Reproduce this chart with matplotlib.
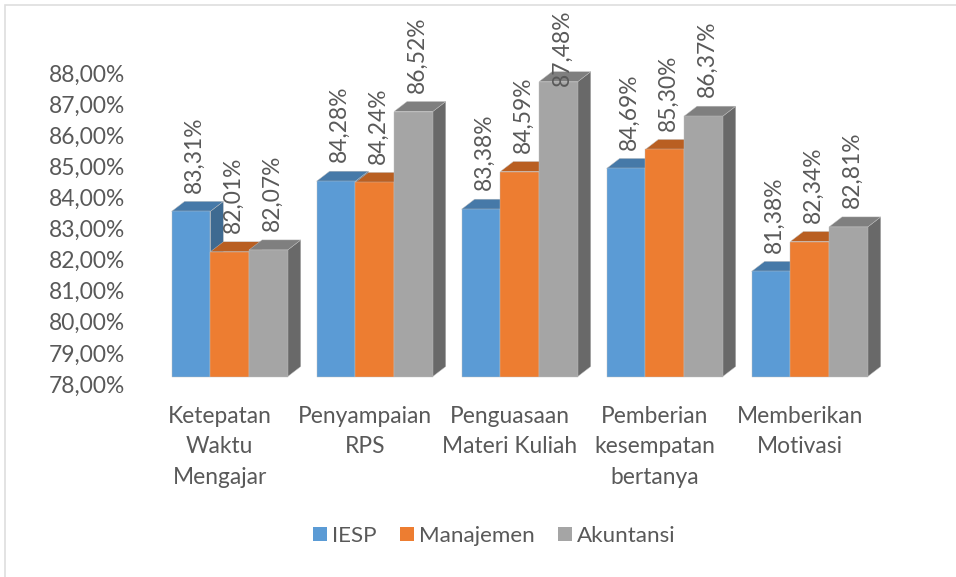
"""plot.py - 3D-look clustered columns, drawn by hand because mplot3d looks wrong here."""
import matplotlib
matplotlib.use("Agg")
import matplotlib.pyplot as plt
from matplotlib.patches import Patch, Polygon, Rectangle

categories = ["Ketepatan\nWaktu\nMengajar", "Penyampaian\nRPS", "Penguasaan\nMateri Kuliah",
              "Pemberian\nkesempatan\nbertanya", "Memberikan\nMotivasi"]
series_names = ["IESP", "Manajemen", "Akuntansi"]
iesp = [83.31, 84.28, 83.38, 84.69, 81.38]
manajemen = [82.01, 84.24, 84.59, 85.30, 82.34]
akuntansi = [82.07, 86.52, 87.48, 86.37, 82.81]
y_ticks = list(range(78, 89))

W, H = 956, 577
FRONT = ["#5B9BD5", "#ED7D31", "#A5A5A5"]
TOP = ["#4679A8", "#B95F22", "#7F7F7F"]
SIDE = ["#3E6A91", "#A3531D", "#696969"]
TEXT = "#595959"
FONT_SIZE = 16.4
PX_PER_CAT = 145.0
PX_PER_UNIT = 31.1
BASE_Y = 376.5
BAR_W = 38.7 / PX_PER_CAT
DX = 13 / PX_PER_CAT
DY = 10 / PX_PER_UNIT
LABEL_SHIFT = -10 / PX_PER_CAT  # category labels sit left of the column groups
LABEL_CEILING = 87.2  # labels above this get pushed down to stay in the chart

plt.rcParams["font.family"] = ["Lato", "DejaVu Sans"]
fig = plt.figure(figsize=(W / 100, H / 100), dpi=100)


def px_axes(left, top, right, bottom):
    return fig.add_axes([left / W, 1 - bottom / H, (right - left) / W, (bottom - top) / H])


# chart frame: only the top and left edges are visible
fig.add_artist(Rectangle((5 / W, -0.02), 2, 1.02 - 5 / H, transform=fig.transFigure, fill=False,
                         edgecolor="#DEDEDE", linewidth=1.2))

ax = px_axes(157.2, BASE_Y - 10 * PX_PER_UNIT, 882.2, BASE_Y)
ax.set_xlim(-0.5, 4.5)
ax.set_ylim(78, 88)
ax.patch.set_visible(False)
for s in ax.spines.values():
    s.set_visible(False)
ax.set_yticks([])
ax.set_xticks([i + LABEL_SHIFT for i in range(len(categories))])
ax.set_xticklabels(categories, fontsize=FONT_SIZE, color=TEXT, linespacing=1.55, va="top")
ax.tick_params(axis="x", length=0, pad=21.2)

for j, vals in enumerate([iesp, manajemen, akuntansi]):
    for i, v in enumerate(vals):
        x0 = i + (j - 1.5) * BAR_W
        x1 = x0 + BAR_W
        side = [(x1, 78), (x1 + DX, 78 + DY), (x1 + DX, v + DY), (x1, v)]
        top = [(x0, v), (x0 + DX, v + DY), (x1 + DX, v + DY), (x1, v)]
        ax.add_patch(Polygon(side, closed=True, facecolor=SIDE[j], edgecolor="#BFBFBF",
                             linewidth=0.3, clip_on=False))
        ax.add_patch(Polygon(top, closed=True, facecolor=TOP[j], edgecolor="#BFBFBF",
                             linewidth=0.3, clip_on=False))
        ax.add_patch(Rectangle((x0, 78), BAR_W, v - 78, facecolor=FRONT[j], edgecolor="#BFBFBF",
                               linewidth=0.3, clip_on=False))
        off = 13.5 if v < LABEL_CEILING else -3
        ax.annotate(f"{v:.2f}%".replace(".", ","), (x0 + BAR_W / 2, v), xytext=(2.6, off),
                    textcoords="offset points", rotation=90, ha="center", va="bottom",
                    fontsize=FONT_SIZE, color=TEXT, annotation_clip=False, zorder=5)

# value axis sits on the back wall, so its labels are shifted from the front floor
ax_ticks = px_axes(125, 73, 126, 73 + 10 * PX_PER_UNIT)
ax_ticks.set_ylim(78, 88)
ax_ticks.patch.set_visible(False)
for s in ax_ticks.spines.values():
    s.set_visible(False)
ax_ticks.set_xticks([])
ax_ticks.set_yticks(y_ticks)
ax_ticks.set_yticklabels([f"{t},00%" for t in y_ticks], fontsize=FONT_SIZE, color=TEXT)
ax_ticks.tick_params(axis="y", length=0, pad=0)

handles = [Patch(facecolor=c, label=n) for c, n in zip(FRONT, series_names)]
fig.legend(handles=handles, loc="center", bbox_to_anchor=(494.5 / W, 1 - 536 / H), ncol=3, frameon=False,
           fontsize=16.1, labelcolor=TEXT, handlelength=0.6, handleheight=0.6,
           handletextpad=0.24, columnspacing=1.05)

fig.savefig("out.png", dpi=100)
